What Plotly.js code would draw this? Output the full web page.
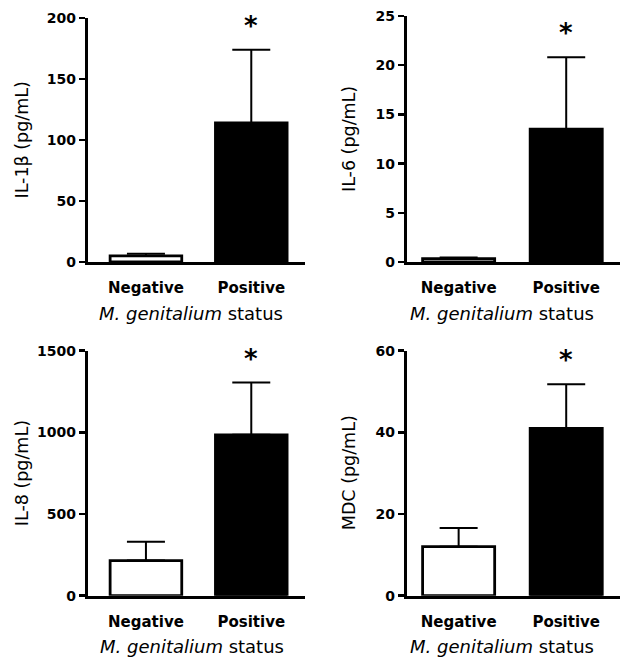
<!DOCTYPE html>
<html>
<head>
<meta charset="utf-8">
<script src="https://cdn.plot.ly/plotly-3.0.1.min.js"></script>
<style>html,body{margin:0;padding:0;background:#fff;}#chart{width:620px;height:663px;}</style>
</head>
<body>
<div id="chart"></div>
<script>
// ---- data ----
const categories = ['Negative', 'Positive'];
const il1bMean = [5, 114];
const il1bSem = [1.8, 60];
const il6Mean = [0.35, 13.5];
const il6Sem = [0.1, 7.3];
const il8Mean = [215, 985];
const il8Sem = [115, 320];
const mdcMean = [12, 41];
const mdcSem = [4.6, 10.8];
const yTitles = ['IL-1β (pg/mL)', 'IL-6 (pg/mL)', 'IL-8 (pg/mL)', 'MDC (pg/mL)'];
const yRanges = [[0, 200], [0, 25], [0, 1500], [0, 60]];
const yTickStep = [50, 5, 500, 20];
const xTitle = '<i>M. genitalium</i> status';
const sigLabel = '*';

// ---- layout helpers (pixel geometry) ----
const W = 620, H = 663;
const px = v => v / W;
const py = v => 1 - v / H;
const panels = [
  {mean: il1bMean, sem: il1bSem, xd: [88, 305], yd: [18, 262], xr: [-0.55, 1.51], bw: 0.68, titleX: 21.5, xtX: 191},
  {mean: il6Mean, sem: il6Sem, xd: [407, 620], yd: [16, 262], xr: [-0.48, 1.50], bw: 0.67, titleX: 349, xtX: 502},
  {mean: il8Mean, sem: il8Sem, xd: [88, 305], yd: [350.7, 595.7], xr: [-0.55, 1.51], bw: 0.68, titleX: 22, xtX: 192},
  {mean: mdcMean, sem: mdcSem, xd: [407, 620], yd: [350.7, 595.7], xr: [-0.48, 1.50], bw: 0.67, titleX: 349, xtX: 502}
];

const FONT = 'DejaVu Sans';
const traces = [];
const layout = {
  width: W, height: H,
  margin: {l: 0, r: 0, t: 0, b: 0},
  paper_bgcolor: '#fff', plot_bgcolor: '#fff',
  showlegend: false,
  font: {family: FONT, color: '#000'},
  annotations: []
};

panels.forEach((p, i) => {
  const n = i + 1;
  const xa = n === 1 ? 'x' : 'x' + n;
  const ya = n === 1 ? 'y' : 'y' + n;
  traces.push({
    type: 'bar',
    x: categories,
    y: p.mean,
    xaxis: xa, yaxis: ya,
    width: p.bw,
    marker: {color: ['#ffffff', '#000000'], line: {color: '#000', width: 2.8}},
    error_y: {type: 'data', symmetric: false, array: p.sem, arrayminus: p.sem.map(() => 0),
              color: '#000', thickness: 2, width: 19},
    hoverinfo: 'skip'
  });
  layout[n === 1 ? 'xaxis' : 'xaxis' + n] = {
    domain: [px(p.xd[0]), px(p.xd[1])],
    anchor: ya,
    type: 'category',
    range: p.xr,
    showline: true, linecolor: '#000', linewidth: 3.2,
    ticks: '', showgrid: false, zeroline: false,
    tickfont: {family: FONT, size: 15, color: '#000', weight: 'bold'},
    ticklabelstandoff: 10,
    fixedrange: true
  };
  layout[n === 1 ? 'yaxis' : 'yaxis' + n] = {
    domain: [py(p.yd[1]), py(p.yd[0])],
    anchor: xa,
    range: yRanges[i],
    dtick: yTickStep[i], tick0: 0,
    showline: true, linecolor: '#000', linewidth: 3.2,
    ticks: 'outside', ticklen: 6, tickwidth: 2.5, tickcolor: '#000',
    showgrid: false, zeroline: false,
    tickfont: {family: FONT, size: 14, color: '#000', weight: 'bold'},
    fixedrange: true
  };
  // y title
  layout.annotations.push({
    xref: 'paper', yref: 'paper',
    x: px(p.titleX), y: py((p.yd[0] + p.yd[1]) / 2),
    text: yTitles[i], textangle: -90, showarrow: false,
    xanchor: 'center', yanchor: 'middle',
    font: {family: FONT, size: 17.5, color: '#000'}
  });
  // x title
  layout.annotations.push({
    xref: 'paper', yref: 'paper',
    x: px(p.xtX), y: py(p.yd[1] + 51),
    text: xTitle, showarrow: false,
    xanchor: 'center', yanchor: 'middle',
    font: {family: FONT, size: 18, color: '#000'}
  });
  // significance marker above the positive bar
  layout.annotations.push({
    xref: xa, yref: ya,
    x: categories[1], y: p.mean[1] + p.sem[1],
    text: sigLabel, showarrow: false,
    xanchor: 'center', yanchor: 'bottom', yshift: 7,
    font: {family: FONT, size: 26, color: '#000', weight: 'bold'}
  });
});

Plotly.newPlot('chart', traces, layout, {displayModeBar: false, staticPlot: true});
</script>
</body>
</html>
